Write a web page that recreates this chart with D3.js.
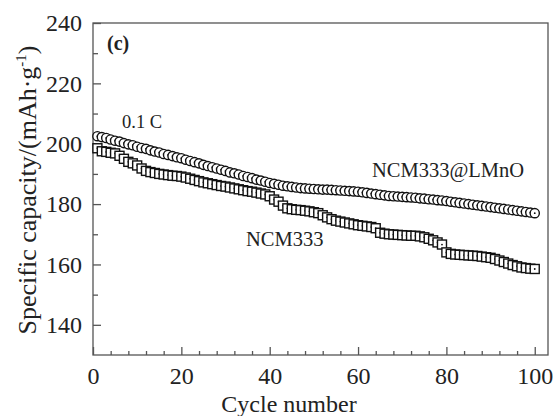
<!DOCTYPE html>
<html>
<head>
<meta charset="utf-8">
<script src="https://cdn.jsdelivr.net/npm/d3@7"></script>
<style>
  body { margin: 0; background: #fff; }
  svg { display: block; }
  text { font-family: "Liberation Serif", "DejaVu Serif", Tinos, Times, serif; fill: #222; }
</style>
</head>
<body>
<svg width="555" height="416"></svg>
<script>
// cycle numbers 1..100
const cycles = d3.range(1, 101)

// NCM333@LMnO (circles)
const coated = [
  202.5, 202.2, 201.9, 201.4, 201.0, 200.7, 200.2, 199.8, 199.5, 199.0,
  198.6, 198.3, 197.8, 197.4, 197.1, 196.6, 196.3, 195.9, 195.5, 195.2,
  194.7, 194.3, 193.9, 193.5, 193.0, 192.6, 192.2, 191.8, 191.4, 191.0,
  190.5, 190.2, 189.8, 189.3, 189.0, 188.6, 188.1, 187.8, 187.4, 187.0,
  186.7, 186.4, 186.1, 185.9, 185.7, 185.5, 185.3, 185.2, 185.1, 185.0,
  184.9, 184.8, 184.8, 184.7, 184.6, 184.5, 184.4, 184.3, 184.2, 184.1,
  183.9, 183.7, 183.5, 183.3, 183.1, 182.9, 182.7, 182.6, 182.5, 182.4,
  182.3, 182.2, 182.1, 181.9, 181.8, 181.6, 181.5, 181.3, 181.2, 181.0,
  180.8, 180.6, 180.4, 180.2, 180.0, 179.8, 179.6, 179.4, 179.2, 179.0,
  178.8, 178.6, 178.4, 178.2, 178.0, 177.8, 177.6, 177.4, 177.2, 177.0
]

// NCM333 (squares)
const bare = [
  198.5, 197.5, 197.3, 197.0, 196.8, 196.0, 195.0, 194.0, 193.5, 192.8,
  191.8, 191.0, 190.6, 190.3, 190.0, 189.8, 189.6, 189.4, 189.3, 189.1,
  188.8, 188.4, 188.0, 187.6, 187.2, 186.9, 186.6, 186.3, 186.0, 185.8,
  185.5, 185.2, 184.9, 184.6, 184.3, 184.1, 183.8, 183.5, 183.2, 182.6,
  181.5, 180.8, 179.5, 178.6, 178.3, 178.1, 178.0, 177.8, 177.6, 177.3,
  177.0, 176.3, 175.6, 175.0, 174.5, 174.2, 173.9, 173.6, 173.3, 173.0,
  172.8, 172.6, 172.4, 172.0, 170.5, 170.2, 170.0, 169.9, 169.8, 169.7,
  169.6, 169.5, 169.5, 169.3, 169.0, 168.5, 168.0, 167.3, 166.6, 164.0,
  163.5, 163.3, 163.2, 163.1, 163.0, 162.9, 162.8, 162.6, 162.4, 162.2,
  161.8, 161.3, 160.8, 160.3, 159.8, 159.4, 159.0, 158.8, 158.6, 158.5
]

const xTicks = [0, 20, 40, 60, 80, 100]
const xMinor = d3.range(4, 101, 4).filter(d => d % 20 !== 0)
const yTicks = [140, 160, 180, 200, 220, 240]
const yMinor = [150, 170, 190, 210, 230]

const svg = d3.select('svg')
const margin = { left: 93, right: 7, top: 23, bottom: 61 }
const width = 555 - margin.left - margin.right
const height = 416 - margin.top - margin.bottom

const x = d3.scaleLinear().domain([0, 103]).range([0, width])
const y = d3.scaleLinear().domain([130, 240]).range([height, 0])

const g = svg.append('g').attr('transform', `translate(${margin.left},${margin.top})`)

// frame
g.append('rect')
  .attr('width', width).attr('height', height)
  .attr('fill', 'none').attr('stroke', '#555').attr('stroke-width', 1.3)

// axes, ticks pointing inward
function styleAxis(sel) {
  sel.attr('font-family', null)
  sel.select('.domain').remove()
  sel.selectAll('line').attr('stroke', '#555').attr('stroke-width', 1.3)
  sel.selectAll('text').attr('font-size', 24).attr('fill', '#222')
}

g.append('g').attr('transform', `translate(0,${height})`)
  .call(d3.axisBottom(x).tickValues(xTicks).tickSizeInner(-8).tickPadding(12))
  .call(styleAxis)
g.append('g').attr('transform', `translate(0,${height})`)
  .call(d3.axisBottom(x).tickValues(xMinor).tickSizeInner(-4).tickFormat(''))
  .call(styleAxis)

g.append('g')
  .call(d3.axisLeft(y).tickValues(yTicks).tickSizeInner(-8).tickPadding(11))
  .call(styleAxis)
g.append('g')
  .call(d3.axisLeft(y).tickValues(yMinor).tickSizeInner(-5).tickFormat(''))
  .call(styleAxis)

// squares first, circles on top
const sq = 9
const squares = g.append('g').selectAll('g').data(cycles).enter().append('g')
  .attr('transform', (d, i) => `translate(${x(d)},${y(bare[i])})`)
squares.append('rect')
  .attr('x', -sq / 2).attr('y', -sq / 2).attr('width', sq).attr('height', sq)
  .attr('fill', '#fff').attr('stroke', '#111').attr('stroke-width', 1.4)
squares.append('circle').attr('r', 0.9).attr('fill', '#111')

const circles = g.append('g').selectAll('g').data(cycles).enter().append('g')
  .attr('transform', (d, i) => `translate(${x(d)},${y(coated[i])})`)
circles.append('circle')
  .attr('r', 4.6)
  .attr('fill', '#fff').attr('stroke', '#111').attr('stroke-width', 1.4)
circles.append('circle').attr('r', 0.9).attr('fill', '#111')

// labels
svg.append('text').attr('x', 107).attr('y', 50).attr('font-size', 20).attr('font-weight', 'bold').text('(c)')
svg.append('text').attr('x', 122).attr('y', 128).attr('font-size', 18.5).text('0.1 C')
svg.append('text').attr('x', 372).attr('y', 177).attr('font-size', 20.5).text('NCM333@LMnO')
svg.append('text').attr('x', 246).attr('y', 246).attr('font-size', 20.5).text('NCM333')

// axis titles
svg.append('text').attr('x', 289).attr('y', 412).attr('text-anchor', 'middle')
  .attr('font-size', 24).text('Cycle number')

const yt = svg.append('text')
  .attr('transform', 'translate(36,190) rotate(-90)')
  .attr('text-anchor', 'middle').attr('font-size', 26)
yt.append('tspan').text('Specific capacity/(mAh·g')
yt.append('tspan').attr('font-size', 15).attr('dy', -10).text('-1')
yt.append('tspan').attr('dy', 10).text(')')
</script>
</body>
</html>
